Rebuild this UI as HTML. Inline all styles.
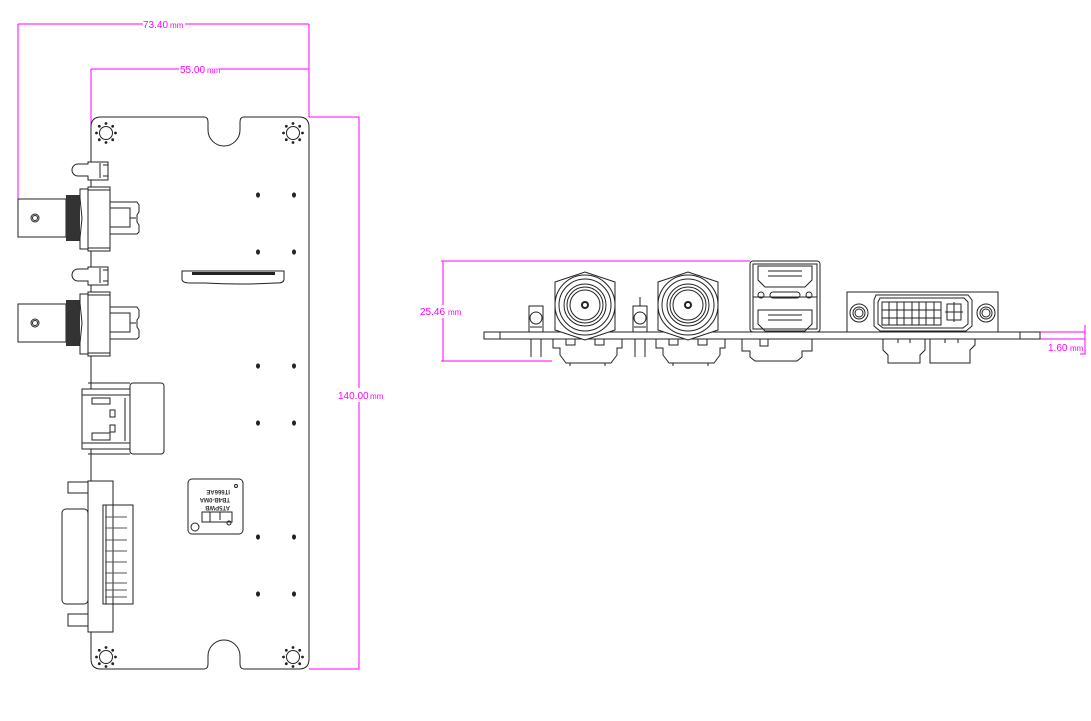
<!DOCTYPE html>
<html><head><meta charset="utf-8"><style>
html,body{margin:0;padding:0;background:#fff}
svg{display:block}
.d{stroke:#ff00ff;stroke-width:1;fill:none}
.t{fill:#ff00ff;font-family:"Liberation Sans",sans-serif;font-size:10px}
.k{stroke:#222;stroke-width:1;fill:none}
.f{stroke:#222;stroke-width:1;fill:#fff}
</style></head><body>
<svg width="1091" height="721" viewBox="0 0 1091 721" xmlns="http://www.w3.org/2000/svg">
<g class="d">
<path d="M18 24H143M185 24H309M18 24V199M309 24V117"/>
<path d="M91 69H179M219 69H309M91 69V133"/>
<path d="M309 117H359V388M359 402V669H309"/>
</g>
<text class="t" x="143" y="28">73.40</text><text class="t" x="170" y="28" style="font-size:8px">mm</text>
<text class="t" x="180" y="73">55.00</text><text class="t" x="207" y="73" style="font-size:8px">mm</text>
<text class="t" x="338" y="399">140.00</text><text class="t" x="370" y="399" style="font-size:8px">mm</text>

<path class="k" d="M101 117H204Q208 117 208 122V130A16 16 0 0 0 240 130V122Q240 117 244 117H299Q309 117 309 127V659Q309 669 299 669H244Q240 669 240 664V656A16 16 0 0 0 208 656V664Q208 669 204 669H101Q91 669 91 659V127Q91 117 101 117Z"/>
<g class="k">
<circle cx="106" cy="133" r="6.5"/><circle cx="293" cy="133" r="6.5"/><circle cx="106" cy="657" r="6.5"/><circle cx="293" cy="657" r="6.5"/>
</g>
<g fill="#222">
<g id="mh"><circle cx="106" cy="123.5" r="1.4"/><circle cx="112.7" cy="126.3" r="1.4"/><circle cx="115.5" cy="133" r="1.4"/><circle cx="112.7" cy="139.7" r="1.4"/><circle cx="106" cy="142.5" r="1.4"/><circle cx="99.3" cy="139.7" r="1.4"/><circle cx="96.5" cy="133" r="1.4"/><circle cx="99.3" cy="126.3" r="1.4"/></g>
<use href="#mh" x="187"/><use href="#mh" y="524"/><use href="#mh" x="187" y="524"/>
<g id="dt"><ellipse cx="258" cy="195" rx="2" ry="2.6"/><ellipse cx="294" cy="195" rx="2" ry="2.6"/><ellipse cx="258" cy="252" rx="2" ry="2.6"/><ellipse cx="294" cy="252" rx="2" ry="2.6"/></g>
<use href="#dt" y="171"/><use href="#dt" y="342"/>
</g>
<path class="k" d="M182 271H284V279Q284 283 278 283H275Q240 285 205 283H190Q182 283 182 279Z"/>
<rect x="192" y="272" width="83" height="3" fill="#222"/>

<g id="bnc">
<path class="f" d="M88 164H78A6 6 0 0 0 78 176H88V180H108V162H88Z"/>
<path class="k" d="M100 163V178M103 165H108M103 176H108"/>
<rect class="f" x="18" y="199" width="48" height="38"/>
<circle class="k" cx="35" cy="218" r="4"/><circle class="k" cx="35" cy="218" r="2.5"/>
<rect x="66" y="195" width="14" height="46" fill="#333"/>
<path class="f" d="M80 189H88V249H80V238L82 218L80 198Z"/>
<rect class="f" x="88" y="187" width="22" height="64"/>
<path class="k" d="M88 190H110M88 248H110"/>
<path class="f" d="M110 202H137L139 205V212L137 215V222L139 225V232L137 234H110Z"/>
<path class="k" d="M110 208H130V227H110M130 208V227M130 218H136"/>
</g>
<use href="#bnc" y="105"/>

<g>
<rect class="f" x="82" y="389" width="48" height="60"/>
<path class="k" d="M88 383H130M88 454H130M82 395H130M82 443H130"/>
<rect class="f" x="130" y="383" width="34" height="71" rx="3"/>
<path class="k" d="M92 398H110V404H92ZM92 433H110V440H92ZM110 410H115V417H110ZM110 425H115V432H110ZM125 398V441"/>
<path class="k" d="M164 395V412M164 420V438M164 444V452"/>
</g>

<g>
<rect class="f" x="68" y="482" width="20" height="11"/>
<rect class="f" x="68" y="614" width="20" height="12"/>
<rect class="f" x="62" y="509" width="26" height="95" rx="4"/>
<rect class="f" x="88" y="481" width="25" height="151"/>
<path class="k" d="M113 487V625"/>
<rect class="f" x="103" y="505" width="30" height="99"/>
<path class="k" d="M113 505V604M106 505V604"/>
<g stroke="#555"><path d="M105 517H127M105 528H127M105 540H127M105 551H127M105 562H127M105 573H127M105 583H127M105 590H127M105 597H127"/></g>
</g>

<rect class="f" x="188" y="479" width="55" height="55" rx="4"/>
<circle class="k" cx="195" cy="527" r="4"/><circle class="k" cx="236" cy="486" r="1.5"/><circle class="k" cx="229" cy="523" r="2"/>
<g fill="#333" font-family="Liberation Sans,sans-serif" font-size="6" font-weight="bold" transform="rotate(180 215 500)">
<text x="200" y="494">AT5PWB</text><text x="200" y="502">TB4B-0MA</text><text x="200" y="510">IT666AE</text></g>
<path class="k" d="M202 512H232V522H202ZM210 512V522M220 512V520"/>

<g class="d">
<path d="M441 261H750M441 361H552M443 261V305M443 318V361"/>
<path d="M1040 332H1085M1040 339H1085M1085 325V354H1080"/>
</g>
<text class="t" x="420" y="315">25.46</text><text class="t" x="448" y="315" style="font-size:8px">mm</text>
<text class="t" x="1048" y="351">1.60</text><text class="t" x="1070" y="351" style="font-size:8px">mm</text>

<rect class="f" x="484" y="332" width="556" height="7"/>
<path class="k" d="M500 332V339M1020 332V339"/>

<g id="led"><rect class="f" x="529" y="306" width="14" height="26"/><circle class="k" cx="536" cy="318" r="6"/><path class="k" d="M530 327H542"/><path class="k" d="M531 339V357M541 339V357"/></g>
<use href="#led" x="104"/>
<path class="k" d="M640 297V306"/>

<g id="bf">
<path class="f" d="M555 282L585 272L615 282V330L585 340L555 330Z"/>
<circle class="f" cx="585" cy="305" r="30"/><circle class="k" cx="585" cy="305" r="26"/><circle class="k" cx="585" cy="305" r="21"/><circle class="k" cx="585" cy="305" r="18"/><circle class="k" cx="585" cy="305" r="15"/>
<circle cx="585" cy="305" r="4" fill="#222"/><circle cx="585" cy="305" r="2" fill="#fff"/>
<path class="k" d="M553 339V348H560V355L566 363H611L617 355V348H622V339M566 339V345H575V339M595 339V345H604V339M570 363V366M605 363V366"/>
</g>
<use href="#bf" x="103"/>

<g>
<rect class="f" x="750" y="261" width="70" height="71" rx="3"/>
<path class="k" d="M753 264H817V329H753ZM753 297H817"/>
<path class="k" d="M758 266H812L812 280L805 287H765L758 280Z"/>
<path class="k" d="M768 271H802M768 276H802" stroke-width="2"/>
<rect class="k" x="770" y="292" width="30" height="6" rx="3"/>
<circle class="k" cx="761" cy="295" r="3"/><circle class="k" cx="809" cy="295" r="3"/>
<path class="k" d="M758 310H812L812 324L805 331H765L758 324Z"/>
<path class="k" d="M768 315H802M768 320H802" stroke-width="2"/>
<path class="k" d="M742 339V351H750V357L755 361H797L802 357V351H812V339M760 339V346H768V339"/>
</g>

<g>
<rect class="f" x="847" y="292" width="151" height="40"/>
<circle class="f" cx="859" cy="313" r="9"/><circle class="k" cx="859" cy="313" r="6"/><circle class="k" cx="859" cy="313" r="4"/>
<circle class="f" cx="986" cy="313" r="9"/><circle class="k" cx="986" cy="313" r="6"/><circle class="k" cx="986" cy="313" r="4"/>
<path class="f" d="M876 295H968L972 300V326L966 331H880L874 326V300Z"/>
<path class="k" d="M880 298H964L968 302V324L963 328H883L878 324V302Z"/>
<g class="k" stroke-width="0.8">
<path d="M882 302H941V325H882ZM882 310H941M882 318H941M889 302V325M897 302V325M904 302V325M912 302V325M919 302V325M926 302V325M934 302V325"/>
<rect x="947" y="304" width="14" height="16"/><path d="M954 302V322M945 312H963"/>
</g>
<path class="k" d="M883 339V350L888 355V363H920V355L925 350V339M930 339V363H970V350L975 345V339M898 339V343M910 339V343M945 339V343M958 339V343"/>
</g>
</svg>
</body></html>
